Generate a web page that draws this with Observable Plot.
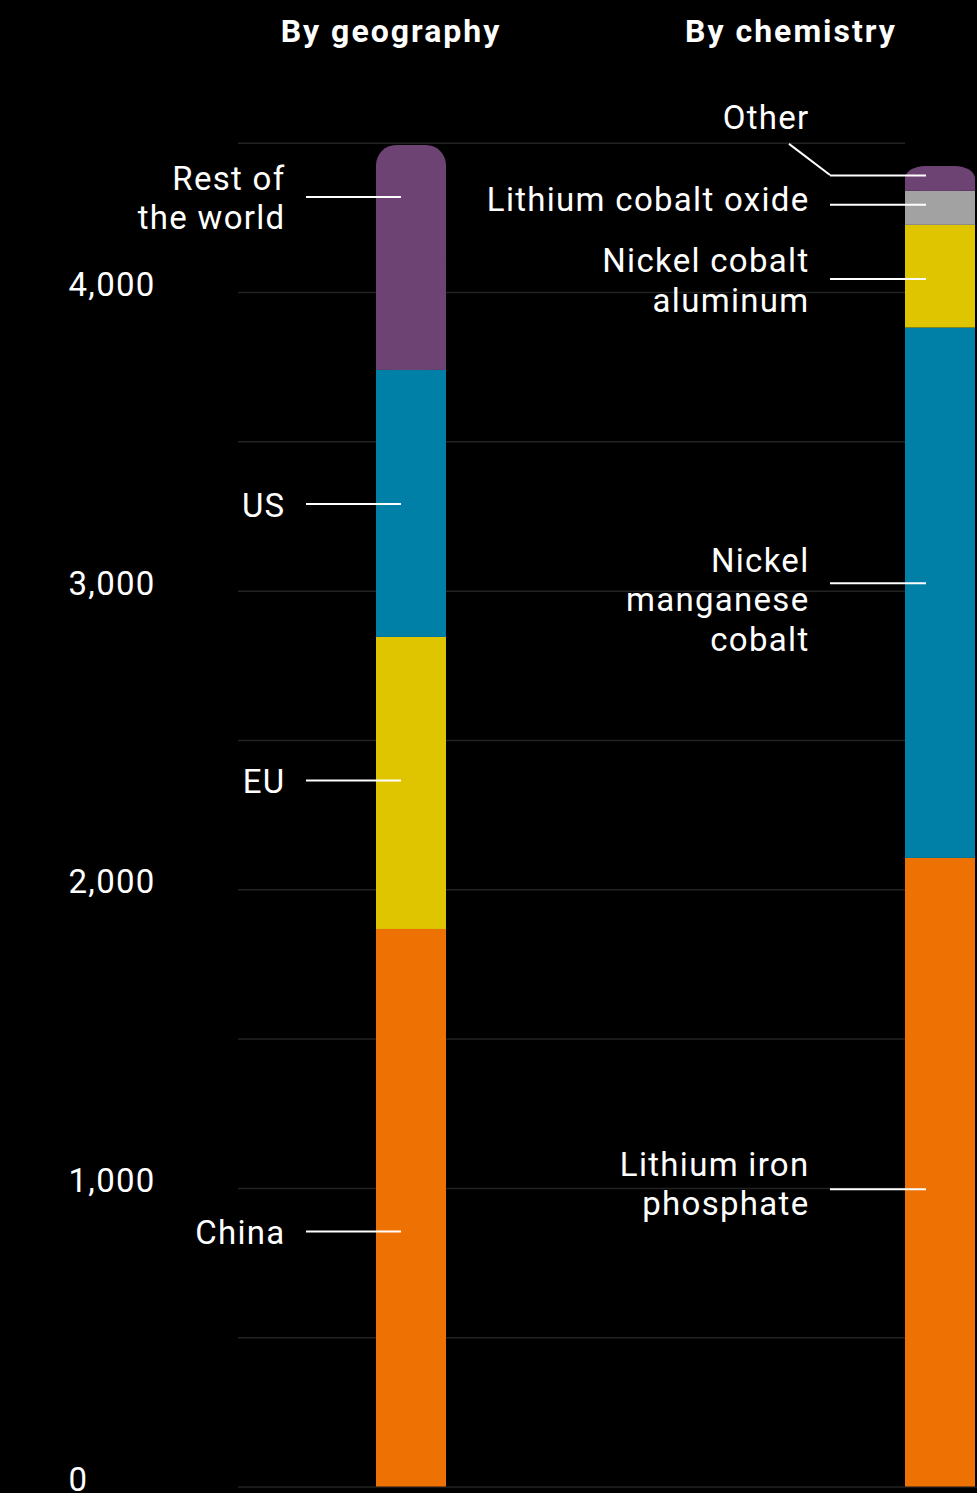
<!DOCTYPE html>
<html><head><meta charset="utf-8">
<script src="https://cdn.jsdelivr.net/npm/d3@7"></script>
<script src="https://cdn.jsdelivr.net/npm/@observablehq/plot@0.6"></script>
<style>
html,body{margin:0;padding:0;background:#000;}
#wrap{width:977px;position:relative;}
#head{position:relative;height:64px;}
.t{position:absolute;top:14px;transform:translateX(-50%);color:#fff;font-family:Roboto, sans-serif;font-weight:700;font-size:32px;letter-spacing:2px;white-space:nowrap;line-height:34px;}
</style></head><body>
<div id="wrap">
  <div id="head">
    <div class="t" id="t0" style="left:391px"></div>
    <div class="t" id="t1" style="left:791px"></div>
  </div>
  <div id="chart"></div>
</div>
<script>
// ---- data ----
const groups = ["geo", "chem"];
const groupTitles = ["By geography", "By chemistry"];

const geoCategories = ["China", "EU", "US", "Rest of the world"];
const geoValues = [1867, 978, 894, 753];
const geoLabels = ["China", "EU", "US", "Rest of\nthe world"];
const geoLineAt = [856, 2366, 3292, 4320];
const geoTextAt = [856, 2366, 3292, 4320];
const geoColors = ["#EE7203", "#DFC500", "#0080A7", "#6D4373"];

const chemCategories = ["Lithium iron phosphate", "Nickel manganese cobalt", "Nickel cobalt aluminum", "Lithium cobalt oxide", "Other"];
const chemValues = [2105, 1776, 344, 114, 83];
const chemLabels = ["Lithium iron\nphosphate", "Nickel\nmanganese\ncobalt", "Nickel cobalt\naluminum", "Lithium cobalt oxide", "Other"];
const chemLineAt = [997, 3026, 4045, 4294, 4392];
const chemTextAt = [1018, 2975, 4045, 4314, 4589];
const chemColors = ["#EE7203", "#0080A7", "#DFC500", "#A2A2A2", "#6D4373"];
const otherLeaderFrom = 4496;

const yTicks = [0, 1000, 2000, 3000, 4000];
const gridTicks = [500, 1000, 1500, 2000, 2500, 3000, 3500, 4000, 4500];
const baseline = [0];

// ---- build tables ----
document.getElementById("t0").textContent = groupTitles[0];
document.getElementById("t1").textContent = groupTitles[1];

function stackRows(group, cats, vals) {
  let acc = 0;
  return cats.map((c, i) => {
    const y1 = acc; acc += vals[i];
    return {group, cat: c, y1, y2: acc, top: i === cats.length - 1};
  });
}
const rows = [...stackRows("geo", geoCategories, geoValues), ...stackRows("chem", chemCategories, chemValues)];
const geoLabelRows = geoCategories.map((c, i) => ({group: "geo", label: geoLabels[i], lineAt: geoLineAt[i], textAt: geoTextAt[i]}));
const chemLabelRows = chemCategories.map((c, i) => ({group: "chem", label: chemLabels[i], lineAt: chemLineAt[i], textAt: chemTextAt[i]}));

const lineStyle = {stroke: "#fff", strokeWidth: 2};

const chart = Plot.plot({
  width: 977,
  height: 1429,
  marginTop: 78.7,
  marginBottom: 6.5,
  marginLeft: 238,
  marginRight: 0,
  x: {domain: groups, paddingInner: 0.867675, paddingOuter: 0.13233, align: 0.9857, round: false, axis: null},
  y: {domain: [0, 4500], axis: null},
  color: {domain: [...geoCategories, ...chemCategories], range: [...geoColors, ...chemColors]},
  style: {background: "#000", color: "#fff", fontFamily: "Roboto, sans-serif", fontSize: "33px", letterSpacing: "1.3px", overflow: "visible"},
  marks: [
    Plot.ruleY(gridTicks, {stroke: "#222", strokeWidth: 1.5, insetRight: 72}),
    Plot.ruleY(baseline, {stroke: "#222", strokeWidth: 1.5}),
    Plot.axisY(yTicks, {tickSize: 0, tickPadding: 0, textAnchor: "start", dx: -170, dy: -7, tickFormat: d3.format(","), label: null, fill: "#fff"}),
    Plot.rectY(rows.filter(d => !d.top), {x: "group", y1: "y1", y2: "y2", fill: "cat"}),
    Plot.rectY(rows.filter(d => d.top), {x: "group", y1: "y1", y2: "y2", fill: "cat", rx: 20, ry: 20}),
    Plot.rectY(rows.filter(d => d.top), {x: "group", y1: "y1", y2: d => (d.y1 + d.y2) / 2, fill: "cat"}),
    Plot.tickY(geoLabelRows, {x: "group", y: "lineAt", insetLeft: -70, insetRight: 45, ...lineStyle}),
    Plot.tickY(chemLabelRows, {x: "group", y: "lineAt", insetLeft: -75, insetRight: 49, ...lineStyle}),
    (index, scales) => {
      const x0 = scales.x("chem");
      return d3.create("svg:path")
        .attr("d", `M${x0 - 116},${scales.y(otherLeaderFrom)}L${x0 - 75},${scales.y(chemLineAt[4])}`)
        .attr("fill", "none").attr("stroke", "#fff").attr("stroke-width", 2)
        .node();
    },
    Plot.text(geoLabelRows, {x: "group", y: "textAt", text: "label", textAnchor: "end", lineAnchor: "middle", lineHeight: 1.2, dx: -126, fill: "#fff"}),
    Plot.text(chemLabelRows, {x: "group", y: "textAt", text: "label", textAnchor: "end", lineAnchor: "middle", lineHeight: 1.2, dx: -131, fill: "#fff"})
  ]
});
document.getElementById("chart").appendChild(chart);
</script>
</body></html>
